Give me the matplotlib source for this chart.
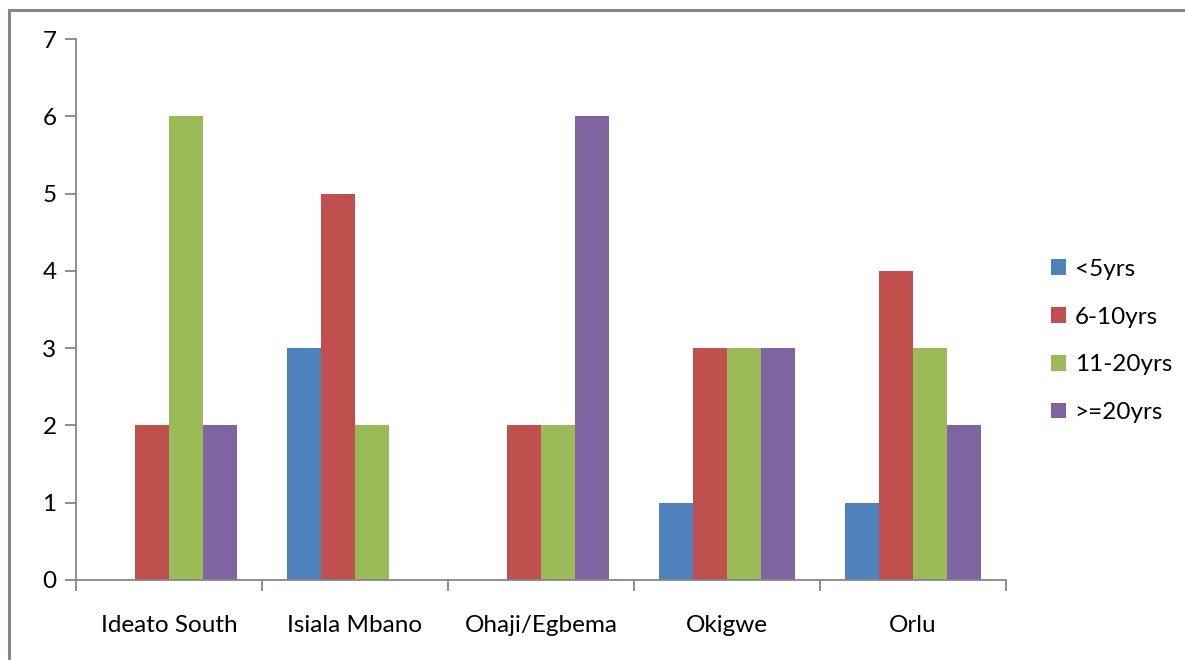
import numpy as np
import matplotlib.pyplot as plt
from matplotlib.patches import Rectangle

# Dados por distrito e faixa de anos
categorias = ['Ideato South', 'Isiala Mbano', 'Ohaji/Egbema', 'Okigwe', 'Orlu']
menos_5 = [0, 3, 0, 1, 1]
de_6_10 = [2, 5, 2, 3, 4]
de_11_20 = [6, 2, 2, 3, 3]
mais_20 = [2, 0, 6, 3, 2]
series = [menos_5, de_6_10, de_11_20, mais_20]
rotulos = ['<5yrs', '6-10yrs', '11-20yrs', '>=20yrs']
cores = ['#4F81BD', '#C0504D', '#9BBB59', '#8064A2']

plt.rcParams['font.family'] = ['Lato', 'DejaVu Sans']

fig = plt.figure(figsize=(11.85, 6.6), dpi=100)
ax = fig.add_axes([76 / 1185, 1 - 580 / 660, 930 / 1185, 541 / 660])

# Moldura cinza em volta do gráfico
fig.patches.append(Rectangle((9 / 1185, -0.05), 1.2, 1 - 10 / 660 + 0.05,
                             transform=fig.transFigure, fill=False,
                             edgecolor='#878787', linewidth=2.2))

x = np.arange(len(categorias))
largura = 0.183
for i, (vals, rot, cor) in enumerate(zip(series, rotulos, cores)):
    ax.bar(x + (i - 1.5) * largura, vals, largura, color=cor, label=rot,
           edgecolor='none')

ax.set_xlim(-0.5, len(categorias) - 0.5)
ax.set_ylim(0, 7)
ax.set_yticks(range(8))
ax.set_xticks(x)
ax.set_xticklabels(categorias)
ax.set_xticks(np.arange(-0.5, len(categorias)), minor=True)
ax.tick_params(axis='x', which='major', length=0, pad=25, labelsize=17.5)
ax.tick_params(axis='x', which='minor', length=8, width=1.3, color='#868686')
ax.tick_params(axis='y', length=8, width=1.3, color='#868686', pad=6, labelsize=17.5)

for lado in ['top', 'right']:
    ax.spines[lado].set_visible(False)
for lado in ['left', 'bottom']:
    ax.spines[lado].set_color('#868686')
    ax.spines[lado].set_linewidth(1.3)

ax.legend(loc='center left', bbox_to_anchor=(1.025, 0.442), frameon=False,
          fontsize=17.5, handlelength=0.62, handleheight=0.62,
          handletextpad=0.35, labelspacing=1.1)

plt.savefig('out.png', dpi=100)
